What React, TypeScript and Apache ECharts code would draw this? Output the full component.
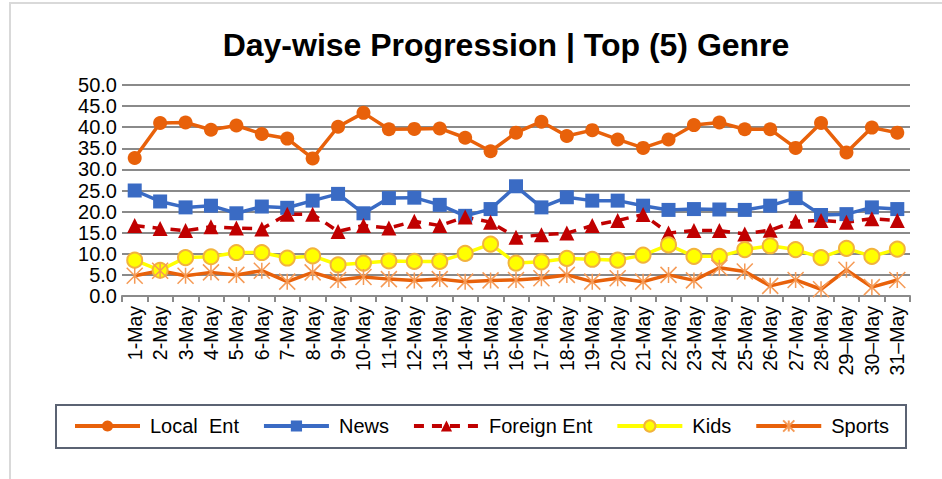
import React, { useEffect, useRef } from "react";
import * as echarts from "echarts";

const days: string[] = [
  "1-May", "2-May", "3-May", "4-May", "5-May", "6-May", "7-May", "8-May", "9-May", "10-May",
  "11-May", "12-May", "13-May", "14-May", "15-May", "16-May", "17-May", "18-May", "19-May", "20-May",
  "21-May", "22-May", "23-May", "24-May", "25-May", "26-May", "27-May", "28-May", "29–May", "30–May", "31–May",
];

const localEnt: number[] = [32.7, 41.0, 41.1, 39.4, 40.4, 38.4, 37.3, 32.6, 40.1, 43.4, 39.5, 39.6, 39.7, 37.5, 34.3, 38.7, 41.3, 37.9, 39.3, 37.1, 35.1, 37.1, 40.5, 41.1, 39.5, 39.5, 35.1, 41.0, 34.0, 39.9, 38.7];
const news: number[] = [25.0, 22.4, 21.0, 21.4, 19.6, 21.2, 20.9, 22.6, 24.2, 19.6, 23.2, 23.3, 21.6, 19.0, 20.6, 26.0, 21.0, 23.4, 22.6, 22.6, 21.4, 20.4, 20.6, 20.5, 20.4, 21.4, 23.2, 19.2, 19.4, 21.0, 20.6];
const foreignEnt: number[] = [16.7, 16.0, 15.5, 16.4, 16.1, 15.9, 19.4, 19.4, 15.3, 16.7, 16.1, 17.7, 16.7, 18.7, 17.5, 13.9, 14.5, 14.9, 16.7, 17.9, 19.3, 14.9, 15.5, 15.5, 14.7, 15.6, 17.7, 17.9, 17.5, 18.3, 17.9];
const kids: number[] = [8.5, 6.1, 9.1, 9.3, 10.3, 10.3, 9.0, 9.5, 7.4, 7.8, 8.3, 8.2, 8.2, 10.1, 12.3, 7.8, 8.1, 8.9, 8.7, 8.5, 9.7, 12.1, 9.4, 9.4, 11.0, 11.9, 11.0, 9.1, 11.3, 9.4, 11.1];
const sports: number[] = [4.8, 6.0, 4.8, 5.6, 5.0, 6.0, 3.4, 5.6, 3.8, 4.5, 4.0, 3.7, 4.0, 3.4, 3.7, 3.8, 4.2, 5.0, 3.4, 4.2, 3.4, 5.0, 3.7, 6.7, 5.8, 2.4, 3.8, 1.6, 6.2, 2.1, 3.8];

const seriesNames: string[] = ["Local  Ent", "News", "Foreign Ent", "Kids", "Sports"];
const chartTitle = "Day-wise Progression | Top (5) Genre";

const FONT = "'Liberation Sans', Arial, sans-serif";

export default function App() {
  const ref = useRef<HTMLDivElement>(null);

  useEffect(() => {
    if (!ref.current) return;
    const chart = echarts.init(ref.current, undefined, { renderer: "svg" });
    const option: any = {
      animation: false,
      backgroundColor: "#ffffff",
      textStyle: { fontFamily: FONT },
      grid: { left: 122, right: 32, top: 85, bottom: 183, containLabel: false },
      graphic: [
        {
          type: "rect",
          shape: { x: 10, y: 3, width: 960, height: 520 },
          style: { fill: "none", stroke: "#d9d9d9", lineWidth: 2 },
          silent: true,
        },
        {
          type: "text",
          x: 506,
          y: 45,
          style: {
            text: chartTitle,
            font: `bold 32px ${FONT}`,
            fill: "#000000",
            textAlign: "center",
            textVerticalAlign: "middle",
          },
        },
        {
          type: "rect",
          shape: { x: 56, y: 405, width: 850, height: 43 },
          style: { fill: "none", stroke: "#5b6373", lineWidth: 2 },
          silent: true,
        },
      ],
      legend: {
        left: 73,
        top: 416,
        itemWidth: 65,
        itemHeight: 14,
        itemGap: 23,
        padding: 0,
        lineStyle: { width: 4 },
        textStyle: { fontSize: 20, color: "#000", fontFamily: FONT, padding: [0, 0, 0, 5] },
        data: seriesNames,
      },
      xAxis: {
        type: "category",
        data: days,
        boundaryGap: true,
        axisLine: { lineStyle: { color: "#8a8a8a", width: 2 } },
        axisTick: { show: true, alignWithLabel: false, length: 6, lineStyle: { color: "#8a8a8a", width: 2 } },
        axisLabel: { interval: 0, rotate: 90, fontSize: 19.5, color: "#000", margin: 10, fontFamily: FONT },
        splitLine: { show: false },
      },
      yAxis: {
        type: "value",
        min: 0,
        max: 50,
        interval: 5,
        axisLine: { show: false },
        axisTick: { show: false },
        axisLabel: {
          fontSize: 20,
          color: "#000",
          margin: 5,
          fontFamily: FONT,
          formatter: (v: number) => v.toFixed(1),
        },
        splitLine: { lineStyle: { color: "#8a8a8a", width: 2 } },
      },
      series: [
        {
          name: seriesNames[0],
          type: "line",
          data: localEnt,
          symbol: "circle",
          symbolSize: 14,
          lineStyle: { color: "#E8610A", width: 3.5 },
          itemStyle: { color: "#E8610A" },
        },
        {
          name: seriesNames[1],
          type: "line",
          data: news,
          symbol: "rect",
          symbolSize: 14,
          lineStyle: { color: "#3A6BC4", width: 3.5 },
          itemStyle: { color: "#3A6BC4" },
        },
        {
          name: seriesNames[2],
          type: "line",
          data: foreignEnt,
          symbol: "triangle",
          symbolSize: 15,
          lineStyle: { color: "#C00000", width: 3.5, type: [10, 8] },
          itemStyle: { color: "#C00000" },
        },
        {
          name: seriesNames[3],
          type: "line",
          data: kids,
          symbol: "circle",
          symbolSize: 15,
          lineStyle: { color: "#FFFF00", width: 3.5 },
          itemStyle: { color: "#FFFF00", borderColor: "#F2B33D", borderWidth: 2 },
        },
        {
          name: seriesNames[4],
          type: "line",
          data: sports,
          symbol: "path://M0,0L10,10M10,0L0,10M5,0L5,10",
          symbolSize: 16,
          lineStyle: { color: "#E8610A", width: 3.5 },
          itemStyle: { color: "rgba(0,0,0,0)", borderColor: "#F59A55", borderWidth: 1.5 },
        },
      ],
    };
    chart.setOption(option);
    return () => chart.dispose();
  }, []);

  return (
    <div
      ref={ref}
      style={{ position: "fixed", left: 0, top: 0, width: 942, height: 479 }}
    />
  );
}
